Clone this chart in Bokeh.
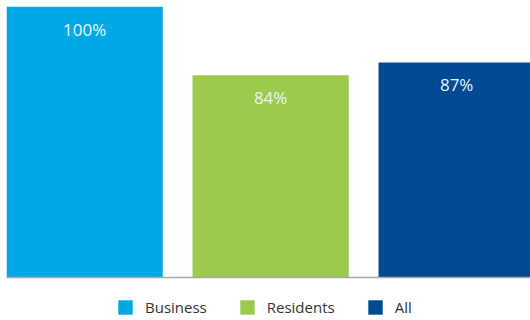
from bokeh.plotting import figure
from bokeh.models import ColumnDataSource, Range1d, Legend, LegendItem, Span
from bokeh.core.properties import value
from bokeh.embed import file_html
from bokeh.resources import INLINE

categories = ["Business", "Residents", "All"]
values = [100, 84, 87]
labels = ["100%", "84%", "87%"]
colors = ["#00a9e6", "#9dc94c", "#004a93"]

src = ColumnDataSource(dict(x=list(range(len(categories))), top=values, label=labels,
                            color=colors, cat=categories))

y0 = 37      # value axis baseline
y_low = 27   # room below the baseline for the legend
p = figure(width=530, height=320, output_backend="svg", toolbar_location=None,
           x_range=Range1d(-0.42, 2.397), y_range=Range1d(y_low, 100),
           min_border_left=6, min_border_right=0, min_border_top=6, min_border_bottom=0)
p.outline_line_color = None
p.background_fill_color = "white"
p.border_fill_color = "white"
p.grid.visible = False
p.yaxis.visible = False
p.xaxis.visible = False

r = p.vbar(x="x", top="top", bottom=y0, width=0.84, fill_color="color", line_color=None,
           source=src)
p.text(x="x", y="top", text="label", source=src, text_align="center", text_baseline="top",
       y_offset=11, text_font=value("Open Sans"), text_font_size="17px", text_color="#e6f4fb")

p.add_layout(Span(location=y0, dimension="width", line_color="#a8a8a8", line_width=1.5))

items = [LegendItem(label=c, renderers=[r], index=i) for i, c in enumerate(categories)]
legend = Legend(items=items, orientation="horizontal", location=(110, 3),
                label_text_font="Open Sans", label_text_font_size="15px",
                label_text_color="#333333", glyph_width=18, glyph_height=18,
                label_standoff=11, spacing=31, padding=0, margin=0,
                border_line_color=None, background_fill_alpha=0,
                label_height=18)
p.add_layout(legend, "center")

open("out.html", "w").write(file_html(p, INLINE))
